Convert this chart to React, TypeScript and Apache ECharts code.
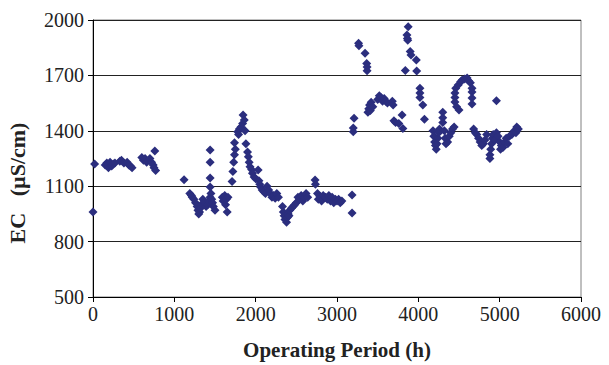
import React, { useEffect, useRef } from "react";
import * as echarts from "echarts";

const xTicks = [0, 1000, 2000, 3000, 4000, 5000, 6000];
const yTicks = [500, 800, 1100, 1400, 1700, 2000];
const xTitle = "Operating Period (h)";
const yTitle = "EC   (µS/cm)";

// Operating period (h) and EC (µS/cm)
const hours: number[] = [
  0, 20, 150, 170, 190, 210, 230, 250, 270, 330, 350, 380, 420, 440, 460, 480, 600, 620, 640, 660, 700, 720, 740, 750, 770, 760,
  1120, 1190, 1210, 1220, 1240, 1260, 1280, 1290, 1300, 1310, 1320, 1330, 1350, 1370, 1390, 1410, 1420, 1440, 1450, 1460, 1470, 1480, 1500,
  1440, 1440, 1440, 1440, 1590, 1600, 1620, 1630, 1640, 1650, 1660,
  1710, 1720, 1730, 1740, 1750, 1740, 1780, 1790, 1800, 1820, 1840, 1845, 1860, 1870, 1880, 1900, 1910, 1920, 1930, 1950, 1960, 1980, 2000,
  2030, 2040, 2050, 2060, 2080, 2100, 2120, 2140, 2160, 2180, 2200, 2220, 2240, 2260, 2280,
  2330, 2340, 2350, 2360, 2380, 2390, 2400, 2410, 2420, 2440, 2460, 2480, 2500, 2520, 2540, 2560, 2580, 2600, 2620, 2640,
  2730, 2735, 2760, 2770, 2790, 2810, 2830, 2860, 2880, 2900, 2920, 2940, 2960, 2980, 3000, 3020, 3040, 3060, 3185, 3185,
  3200, 3200, 3210, 3265, 3270, 3345, 3365, 3370, 3370, 3380, 3390, 3400, 3410, 3420, 3440, 3500, 3520, 3540, 3560, 3580, 3600, 3620,
  3680, 3690, 3700, 3720, 3760, 3800, 3810, 3840, 3860, 3865, 3870, 3875, 3900, 3910, 3975, 3980, 4020, 4020, 4020, 4055, 4075,
  4180, 4190, 4200, 4210, 4220, 4230, 4240, 4250, 4260, 4300, 4300, 4300, 4320, 4330, 4340, 4360, 4380, 4400, 4420, 4440,
  4450, 4450, 4450, 4460, 4470, 4490, 4500, 4520, 4540, 4570, 4600, 4620, 4640, 4660, 4660, 4660, 4660,
  4680, 4700, 4720, 4740, 4760, 4780, 4800, 4820, 4840, 4880, 4880, 4890, 4900, 4910, 4920, 4940, 4960, 4960, 4980,
  5000, 5010, 5020, 5040, 5060, 5080, 5100, 5120, 5150, 5180, 5200, 5210, 5230,
];
const ec: number[] = [
  960, 1220, 1215, 1225, 1200, 1230, 1210, 1220, 1225, 1235, 1240, 1225, 1230, 1215, 1210, 1200, 1255, 1240, 1250, 1230, 1250, 1230, 1215, 1200, 1185, 1290,
  1135, 1060, 1050, 1040, 1030, 1010, 990, 970, 950, 960, 980, 1000, 1030, 1010, 990, 1000, 1020, 1040, 1060, 1030, 1010, 990, 970,
  1095, 1145, 1230, 1296, 1040, 1020, 1050, 1000, 1030, 960, 1040,
  1125, 1180, 1230, 1270, 1300, 1335, 1395, 1380, 1410, 1420, 1440, 1485, 1458, 1400, 1330, 1285, 1260, 1230, 1205, 1190, 1170, 1150, 1140,
  1188, 1130, 1110, 1095, 1080, 1070, 1060, 1100, 1080, 1060, 1040, 1050, 1035, 1060, 1040,
  990, 960, 940, 920, 905, 930, 950, 940, 970, 980, 990, 1000, 1010, 1040, 1030, 1050, 1020, 1040, 1060, 1040,
  1133, 1110, 1060, 1030, 1045, 1020, 1050, 1040, 1030, 1050, 1020, 1040, 1010, 1030, 1020, 1030, 1010, 1020, 1052, 955,
  1395, 1415, 1468, 1874, 1860, 1820, 1765, 1745, 1725, 1500, 1520, 1540, 1510, 1555, 1530, 1570, 1590, 1580, 1560, 1575, 1560, 1550,
  1560, 1540, 1455, 1445, 1440, 1486, 1413, 1726, 1919, 1900, 1890, 1964, 1829, 1810, 1783, 1724, 1630, 1605, 1580, 1540, 1462,
  1400, 1370, 1340, 1320, 1300, 1330, 1360, 1390, 1410, 1500, 1470, 1445, 1400, 1360, 1330, 1340, 1370, 1390, 1410, 1420,
  1605, 1580, 1556, 1630, 1530, 1648, 1512, 1665, 1675, 1680, 1686, 1670, 1660, 1630, 1610, 1578, 1545,
  1410, 1390, 1380, 1360, 1340, 1320, 1330, 1350, 1380, 1270, 1250, 1300, 1330, 1360, 1380, 1350, 1563, 1390, 1370,
  1340, 1300, 1320, 1310, 1340, 1360, 1330, 1370, 1380, 1400, 1390, 1420, 1410,
];

export default function App() {
  const ref = useRef<HTMLDivElement>(null);
  useEffect(() => {
    if (!ref.current) return;
    const chart = echarts.init(ref.current, undefined, { renderer: "svg" });
    const font = "'Liberation Serif', 'Times New Roman', serif";
    chart.setOption({
      animation: false,
      backgroundColor: "#ffffff",
      grid: {
        left: 93,
        right: 28,
        top: 20,
        bottom: 68,
        show: true,
        borderColor: "#808080",
        borderWidth: 1,
      },
      graphic: [
        {
          type: "text",
          x: 17,
          y: 183,
          rotation: Math.PI / 2,
          style: {
            text: yTitle,
            fontFamily: font,
            fontWeight: "bold",
            fontSize: 22,
            fill: "#222",
            textAlign: "center",
            textVerticalAlign: "middle",
          },
        },
      ],
      xAxis: {
        type: "value",
        min: xTicks[0],
        max: xTicks[xTicks.length - 1],
        interval: 1000,
        name: xTitle,
        nameLocation: "middle",
        nameGap: 42,
        nameTextStyle: { fontFamily: font, fontWeight: "bold", fontSize: 21, color: "#222" },
        axisLine: { show: true, lineStyle: { color: "#000", width: 1 } },
        axisTick: { show: true, inside: false, length: 5, lineStyle: { color: "#000" } },
        axisLabel: { fontFamily: font, fontSize: 20, color: "#222", margin: 7, formatter: (v: number) => String(v) },
        splitLine: { show: false },
      },
      yAxis: {
        type: "value",
        min: yTicks[0],
        max: yTicks[yTicks.length - 1],
        interval: 300,
        axisLine: { show: true, lineStyle: { color: "#000", width: 1 } },
        axisTick: { show: true, inside: false, length: 5, lineStyle: { color: "#000" } },
        axisLabel: { fontFamily: font, fontSize: 20, color: "#222", margin: 9, formatter: (v: number) => String(v) },
        splitLine: { show: true, lineStyle: { color: "#222", width: 1 } },
      },
      series: [
        {
          type: "scatter",
          symbol: "diamond",
          symbolSize: 9,
          itemStyle: { color: "#2B2E7E", opacity: 1 },
          data: hours.map((h, i) => [h, ec[i]]),
        },
      ],
    });
    return () => chart.dispose();
  }, []);
  return <div ref={ref} style={{ width: 609, height: 365, position: "absolute", left: 0, top: 0 }} />;
}
